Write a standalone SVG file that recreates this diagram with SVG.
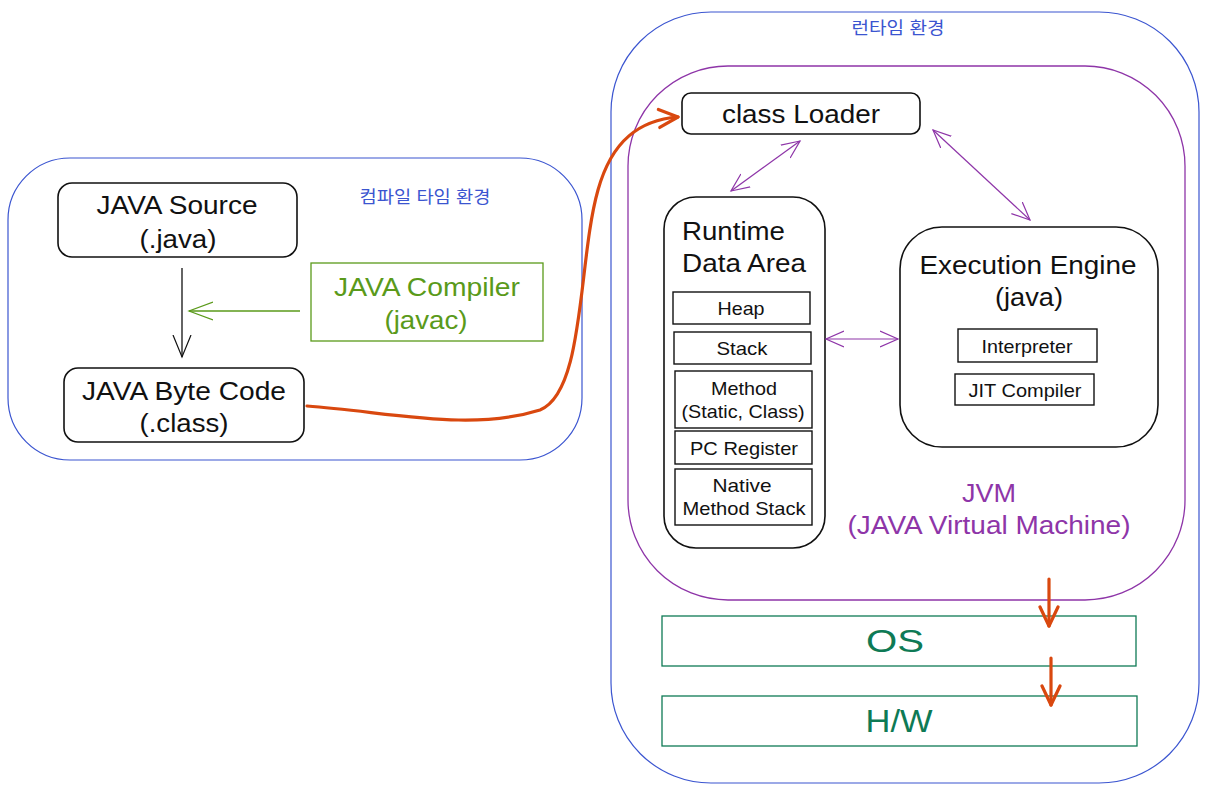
<svg xmlns="http://www.w3.org/2000/svg" width="1209" height="793" viewBox="0 0 1209 793">
<defs>
<style>
text{font-family:"Liberation Sans","Noto Sans CJK KR",Arial,sans-serif;text-anchor:middle;dominant-baseline:central}
.node{fill:#fff;stroke:#111;stroke-width:1.6}
.sub{fill:#fff;stroke:#111;stroke-width:1.4}
.big{font-size:25px;fill:#111}
.small{font-size:19px;fill:#111}
.blue{fill:none;stroke:#3b55d0;stroke-width:1.2}
.purple{fill:none;stroke:#8e35a8;stroke-width:1.3}
.pline{stroke:#8e35a8;stroke-width:1.2;fill:none}
.orange{stroke:#d9480f;stroke-width:3.2;fill:none;stroke-linecap:round}
.kr{font-size:17px;fill:#3b55d0}
.jvm{font-size:25px;fill:#8e35a8}
.osT{font-size:32px;fill:#0e7a55}
.grn{font-size:25px;fill:#5a9a1a}
</style>
<marker id="opB" viewBox="0 0 20 20" refX="18" refY="10" markerWidth="20" markerHeight="20" markerUnits="userSpaceOnUse" orient="auto-start-reverse"><path d="M0,2 L18,10 L0,18" fill="none" stroke="#8e35a8" stroke-width="1.2"/></marker>
<marker id="opK" viewBox="0 0 24 24" refX="22" refY="12" markerWidth="24" markerHeight="24" markerUnits="userSpaceOnUse" orient="auto"><path d="M0,3 L22,12 L0,21" fill="none" stroke="#111" stroke-width="1.2"/></marker>
<marker id="opG" viewBox="0 0 26 26" refX="24" refY="13" markerWidth="26" markerHeight="26" markerUnits="userSpaceOnUse" orient="auto"><path d="M0,4 L24,13 L0,22" fill="none" stroke="#5a9a1a" stroke-width="1.2"/></marker>
<marker id="opO" viewBox="0 0 24 24" refX="21" refY="12" markerWidth="24" markerHeight="24" markerUnits="userSpaceOnUse" orient="auto"><path d="M2,3 L21,12 L2,21" fill="none" stroke="#d9480f" stroke-width="3.2" stroke-linecap="round" stroke-linejoin="round"/></marker>
</defs>
<rect x="0" y="0" width="1209" height="793" fill="#fff"/>

<g id="compile-env">
<rect class="blue" x="8" y="158" width="574" height="302" rx="62"/>
<text class="kr" x="425" y="197" textLength="131" lengthAdjust="spacingAndGlyphs">컴파일 타임 환경</text>
</g>
<g id="runtime-env">
<rect class="blue" x="611" y="12" width="588" height="771" rx="100"/>
<text class="kr" x="898" y="28" textLength="93" lengthAdjust="spacingAndGlyphs">런타임 환경</text>
</g>
<g id="jvm">
<rect class="purple" x="628" y="66" width="557" height="534" rx="100"/>
<text class="jvm" x="989" y="493" textLength="54" lengthAdjust="spacingAndGlyphs">JVM</text>
<text class="jvm" x="989" y="525" textLength="283" lengthAdjust="spacingAndGlyphs">(JAVA Virtual Machine)</text>
</g>

<g id="java-source">
<rect class="node" x="58" y="183" width="239" height="74" rx="14"/>
<text class="big" x="177" y="205" textLength="161" lengthAdjust="spacingAndGlyphs">JAVA Source</text>
<text class="big" x="178" y="239" textLength="77" lengthAdjust="spacingAndGlyphs">(.java)</text>
</g>
<g id="java-bytecode">
<rect class="node" x="64" y="368" width="240" height="74" rx="14"/>
<text class="big" x="184" y="391" textLength="204" lengthAdjust="spacingAndGlyphs">JAVA Byte Code</text>
<text class="big" x="184" y="423" textLength="89" lengthAdjust="spacingAndGlyphs">(.class)</text>
</g>
<g id="java-compiler">
<rect x="311" y="263" width="232" height="78" fill="#fff" stroke="#5a9a1a" stroke-width="1.3"/>
<text class="grn" x="427" y="287" textLength="186" lengthAdjust="spacingAndGlyphs">JAVA Compiler</text>
<text class="grn" x="426" y="320" textLength="83" lengthAdjust="spacingAndGlyphs">(javac)</text>
</g>

<g id="class-loader">
<rect class="node" x="682" y="93" width="238" height="41" rx="9"/>
<text class="big" x="801" y="114" textLength="158" lengthAdjust="spacingAndGlyphs">class Loader</text>
</g>

<g id="runtime-data-area">
<rect class="node" x="664" y="197" width="161" height="351" rx="32"/>
<text class="big" x="682" y="231" style="text-anchor:start" textLength="103" lengthAdjust="spacingAndGlyphs">Runtime</text>
<text class="big" x="682" y="263" style="text-anchor:start" textLength="124" lengthAdjust="spacingAndGlyphs">Data Area</text>
<rect class="sub" x="673" y="292" width="137" height="32"/>
<text class="small" x="741" y="308" textLength="47" lengthAdjust="spacingAndGlyphs">Heap</text>
<rect class="sub" x="674" y="332" width="137" height="32"/>
<text class="small" x="742" y="348" textLength="51" lengthAdjust="spacingAndGlyphs">Stack</text>
<rect class="sub" x="675" y="371" width="137" height="57"/>
<text class="small" x="744" y="388" textLength="66" lengthAdjust="spacingAndGlyphs">Method</text>
<text class="small" x="743" y="411" textLength="123" lengthAdjust="spacingAndGlyphs">(Static, Class)</text>
<rect class="sub" x="675" y="431" width="137" height="33"/>
<text class="small" x="744" y="448" textLength="108" lengthAdjust="spacingAndGlyphs">PC Register</text>
<rect class="sub" x="675" y="469" width="137" height="56"/>
<text class="small" x="742" y="485" textLength="59" lengthAdjust="spacingAndGlyphs">Native</text>
<text class="small" x="744" y="508" textLength="123" lengthAdjust="spacingAndGlyphs">Method Stack</text>
</g>

<g id="execution-engine">
<rect class="node" x="900" y="227" width="258" height="220" rx="42"/>
<text class="big" x="1028" y="265" textLength="217" lengthAdjust="spacingAndGlyphs">Execution Engine</text>
<text class="big" x="1029" y="297" textLength="68" lengthAdjust="spacingAndGlyphs">(java)</text>
<rect class="sub" x="958" y="329" width="139" height="33"/>
<text class="small" x="1027" y="346" textLength="91" lengthAdjust="spacingAndGlyphs">Interpreter</text>
<rect class="sub" x="955" y="374" width="139" height="31"/>
<text class="small" x="1025" y="390" textLength="113" lengthAdjust="spacingAndGlyphs">JIT Compiler</text>
</g>

<g id="os">
<rect x="662" y="616" width="474" height="50" fill="#fff" stroke="#0e7a55" stroke-width="1.3"/>
<text class="osT" x="895" y="641" textLength="58" lengthAdjust="spacingAndGlyphs">OS</text>
</g>
<g id="hw">
<rect x="662" y="696" width="475" height="50" fill="#fff" stroke="#0e7a55" stroke-width="1.3"/>
<text class="osT" x="899" y="721" textLength="67" lengthAdjust="spacingAndGlyphs">H/W</text>
</g>

<g id="connectors">
<line x1="182" y1="268" x2="182" y2="357" stroke="#111" stroke-width="1.3" marker-end="url(#opK)"/>
<line x1="300" y1="311" x2="189" y2="311" stroke="#5a9a1a" stroke-width="1.3" marker-end="url(#opG)"/>
<path class="orange" d="M307,406 C390,412 470,432 540,410 C585,392 578,260 598,190 C612,140 640,120 678,117" marker-end="url(#opO)"/>
<line class="pline" x1="800" y1="141" x2="731" y2="191" marker-start="url(#opB)" marker-end="url(#opB)"/>
<line class="pline" x1="933" y1="130" x2="1030" y2="220" marker-start="url(#opB)" marker-end="url(#opB)"/>
<line class="pline" x1="826" y1="339" x2="898" y2="339" marker-start="url(#opB)" marker-end="url(#opB)"/>
<line class="orange" x1="1049" y1="579" x2="1049" y2="626" marker-end="url(#opO)"/>
<line class="orange" x1="1051" y1="658" x2="1051" y2="705" marker-end="url(#opO)"/>
</g>
</svg>
